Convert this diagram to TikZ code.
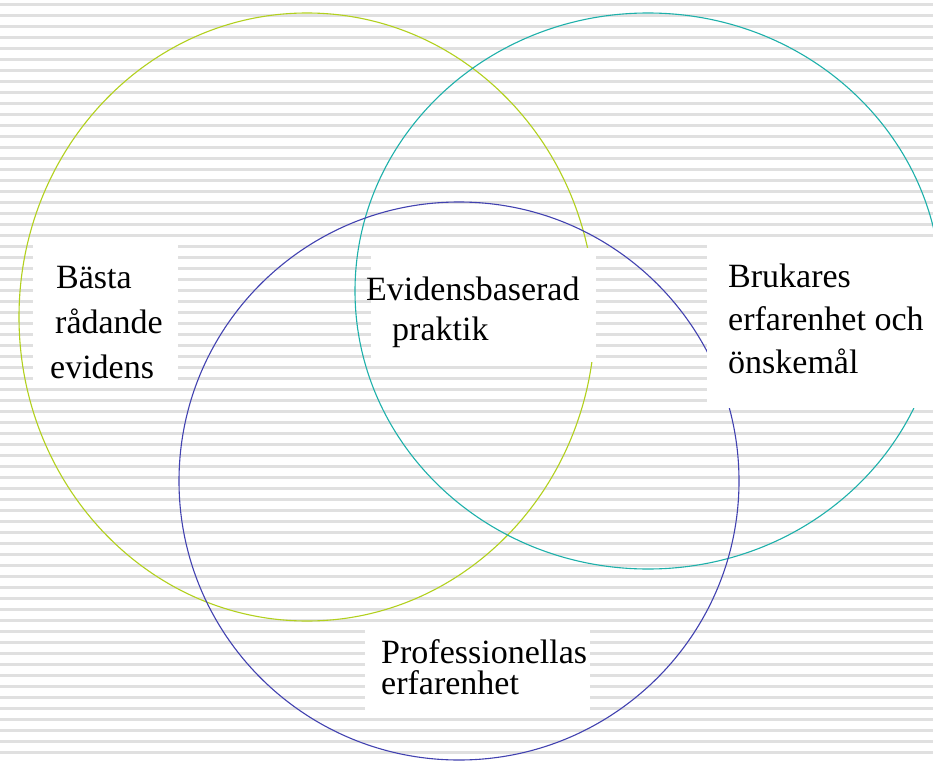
\documentclass[tikz,border=0pt]{standalone}
\usepackage{fontspec}
\setmainfont{Liberation Serif}
\definecolor{cyellow}{RGB}{178,208,30}
\definecolor{cteal}{RGB}{30,176,170}
\definecolor{cblue}{RGB}{66,66,176}
\newcommand\mylines[2]{\vtop{\baselineskip=#1\lineskiplimit=-100pt\lineskip=0pt #2}}
\begin{document}
\begin{tikzpicture}[x=1pt,y=-1pt,
  stripe/.style={fill=black!12},
  ring/.style={line width=1.1pt},
  wbox/.style={fill=white, draw=none, inner sep=0pt, anchor=north west},
  lbl/.style={inner sep=0pt, anchor=base west, font=\fontsize{34}{44}\selectfont}]
\useasboundingbox (0,0) rectangle (933,762);
\fill[white] (0,0) rectangle (933,762);
\foreach \k in {0,...,68} \fill[stripe] (0,{3.2+11*\k}) rectangle (933,{5.6+11*\k});
\draw[ring, draw=cyellow] (307,317) ellipse [x radius=288pt, y radius=304pt];
\draw[ring, draw=cteal] (648,291) ellipse [x radius=293pt, y radius=278pt];
\draw[ring, draw=cblue] (459,481) ellipse [x radius=280pt, y radius=279pt];
\node[wbox, minimum width=145pt, minimum height=145pt] (b1) at (33,238) {};
\node[wbox, minimum width=225pt, minimum height=114pt] (b2) at (371,248) {};
\node[wbox, minimum width=230pt, minimum height=170pt] (b3) at (707,238) {};
\node[wbox, minimum width=225pt, minimum height=90pt] (b4) at (365,626) {};
\node[lbl] (t1) at (56,288) {\mylines{45pt}{\hbox{Bästa}\hbox{\kern-1pt rådande}\hbox{\kern-6pt evidens}}};
\node[lbl] (t2) at (366,300) {\mylines{40pt}{\hbox{Evidensbaserad}\hbox{\kern26pt praktik}}};
\node[lbl] (t3) at (728,287) {\mylines{43pt}{\hbox{Brukares}\hbox{erfarenhet och}\hbox{önskemål}}};
\node[lbl] (t4) at (381,663) {\mylines{31pt}{\hbox{Professionellas}\hbox{erfarenhet}}};
\end{tikzpicture}
\end{document}
